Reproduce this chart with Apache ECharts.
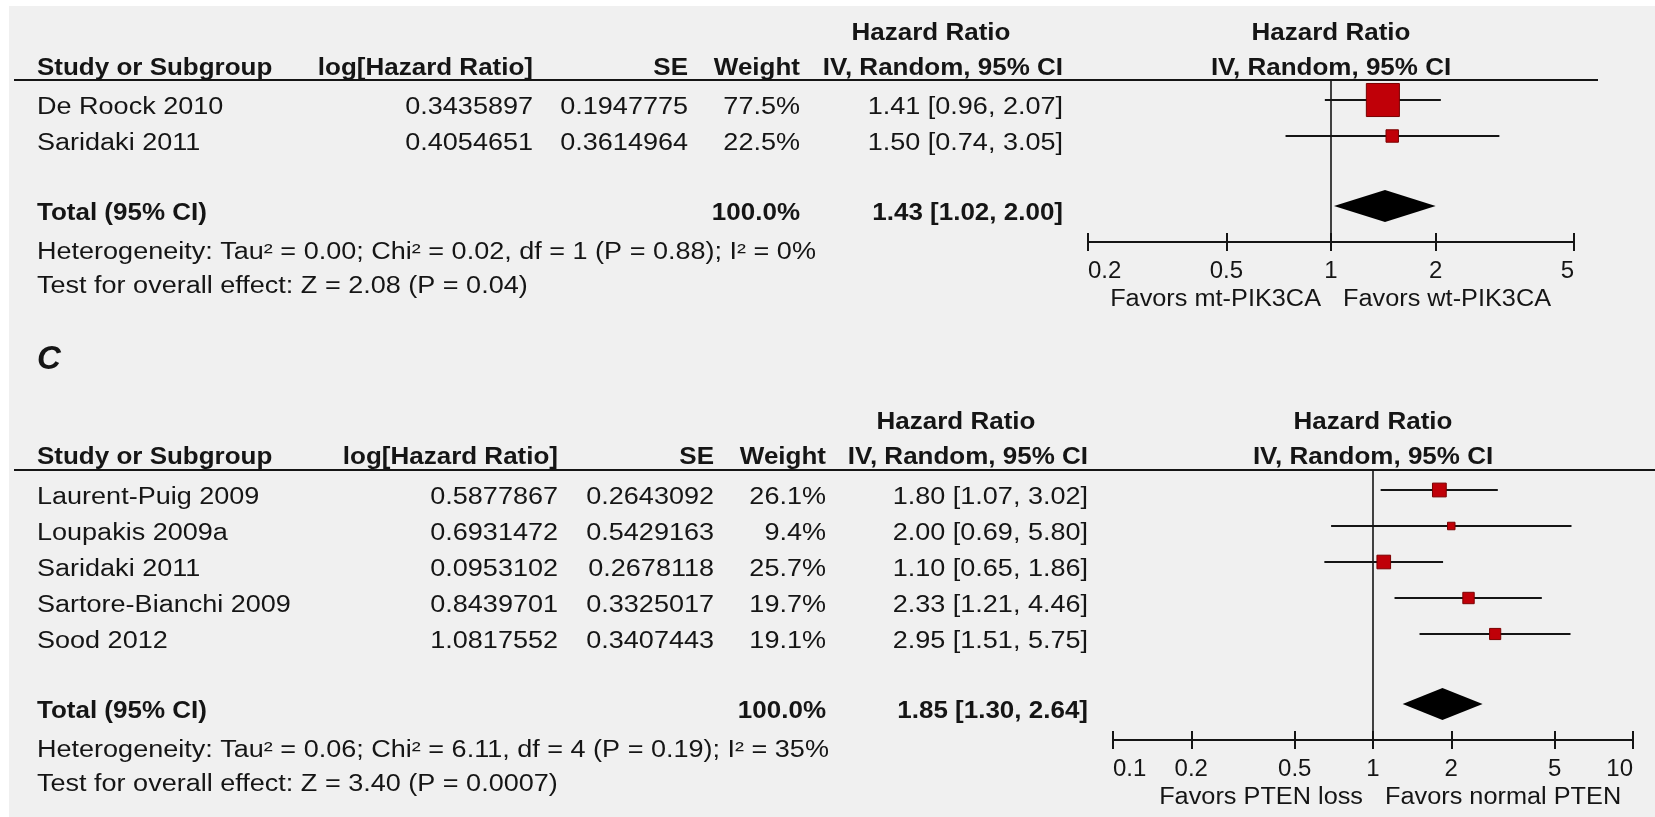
<!DOCTYPE html>
<html>
<head>
<meta charset="utf-8">
<script src="https://cdn.jsdelivr.net/npm/echarts@6/dist/echarts.min.js"></script>
<style>
html,body{margin:0;padding:0;background:#fff;}
#chart{width:1655px;height:817px;}
</style>
</head>
<body>
<div id="chart"></div>
<script>
// ---------- Panel 1 : PIK3CA ----------
const studiesA = ['De Roock 2010', 'Saridaki 2011'];
const logHrA = [0.3435897, 0.4054651];
const seA = [0.1947775, 0.3614964];
const weightA = [77.5, 22.5];
const hrA = [1.41, 1.50];
const loA = [0.96, 0.74];
const hiA = [2.07, 3.05];
const totalA = [1.43, 1.02, 2.00];           // HR, lower, upper
const totalWeightA = 100.0;
const hetA = 'Heterogeneity: Tau² = 0.00; Chi² = 0.02, df = 1 (P = 0.88); I² = 0%';
const testA = 'Test for overall effect: Z = 2.08 (P = 0.04)';
const ticksA = [0.2, 0.5, 1, 2, 5];
const favorsA = ['Favors mt-PIK3CA', 'Favors wt-PIK3CA'];

// ---------- Panel C : PTEN ----------
const panelLabelC = 'C';
const studiesC = ['Laurent-Puig 2009', 'Loupakis 2009a', 'Saridaki 2011', 'Sartore-Bianchi 2009', 'Sood 2012'];
const logHrC = [0.5877867, 0.6931472, 0.0953102, 0.8439701, 1.0817552];
const seC = [0.2643092, 0.5429163, 0.2678118, 0.3325017, 0.3407443];
const weightC = [26.1, 9.4, 25.7, 19.7, 19.1];
const hrC = [1.80, 2.00, 1.10, 2.33, 2.95];
const loC = [1.07, 0.69, 0.65, 1.21, 1.51];
const hiC = [3.02, 5.80, 1.86, 4.46, 5.75];
const totalC = [1.85, 1.30, 2.64];
const totalWeightC = 100.0;
const hetC = 'Heterogeneity: Tau² = 0.06; Chi² = 6.11, df = 4 (P = 0.19); I² = 35%';
const testC = 'Test for overall effect: Z = 3.40 (P = 0.0007)';
const ticksC = [0.1, 0.2, 0.5, 1, 2, 5, 10];
const favorsC = ['Favors PTEN loss', 'Favors normal PTEN'];

// ---------- shared header texts ----------
const headers = ['Study or Subgroup', 'log[Hazard Ratio]', 'SE', 'Weight', 'IV, Random, 95% CI'];
const headerTop = 'Hazard Ratio';

// ---------- layout (pixels) ----------
const FONT = '"Liberation Sans", Arial, Helvetica, sans-serif';
const INK = '#151515';
const ROW_GAP = 36, FIRST_ROW = 20, TOTAL_GAP = 70, TEXT_DY = 8;
const panels = [
  {studies: studiesA, logHr: logHrA, se: seA, weight: weightA, hr: hrA, lo: loA, hi: hiA,
   total: totalA, totalW: totalWeightA, het: hetA, test: testA, ticks: ticksA, favors: favorsA,
   lineY: 80, lineEnd: 1598, hrHeadY: 34, headY: 69, gridLeft: 1088, gridRight: 1574,
   cols: {study: 37, log: 533, se: 688, w: 800, ci: 1063}},
  {studies: studiesC, logHr: logHrC, se: seC, weight: weightC, hr: hrC, lo: loC, hi: hiC,
   total: totalC, totalW: totalWeightC, het: hetC, test: testC, ticks: ticksC, favors: favorsC,
   lineY: 470, lineEnd: 1655, hrHeadY: 423, headY: 458, gridLeft: 1113, gridRight: 1633,
   cols: {study: 37, log: 558, se: 714, w: 826, ci: 1088}}
];
panels.forEach(p => {
  p.rowY = p.studies.map((_, i) => FIRST_ROW + i * ROW_GAP);          // offsets inside grid
  p.totalY = p.rowY[p.rowY.length - 1] + TOTAL_GAP;
  p.gridH = p.totalY + ROW_GAP;
});

const chart = echarts.init(document.getElementById('chart'), null, {renderer: 'canvas'});

const grids = [], xAxes = [], yAxes = [], series = [];
panels.forEach((p, k) => {
  grids.push({left: p.gridLeft, top: p.lineY, width: p.gridRight - p.gridLeft, height: p.gridH, containLabel: false});
  const fmt = v => { const t = p.ticks.find(t => Math.abs(t - v) < 1e-6 * t); return String(t !== undefined ? t : v); };
  // main axis: line, outer ticks, labels
  xAxes.push({type: 'log', logBase: 10, gridIndex: k, position: 'bottom', min: p.ticks[0], max: p.ticks[p.ticks.length - 1],
    axisLine: {show: true, onZero: false, lineStyle: {color: INK, width: 2.2}},
    axisTick: {show: true, inside: false, length: 9, lineStyle: {color: INK, width: 2}, customValues: p.ticks},
    axisLabel: {show: true, customValues: p.ticks, formatter: fmt, margin: 17, color: INK, fontSize: 24, fontFamily: FONT,
      alignMinLabel: 'left', alignMaxLabel: 'right', showMinLabel: true, showMaxLabel: true},
    splitLine: {show: false}, minorTick: {show: false}});
  // twin axis: inner ticks
  xAxes.push({type: 'log', logBase: 10, gridIndex: k, position: 'bottom', offset: 0, min: p.ticks[0], max: p.ticks[p.ticks.length - 1],
    axisLine: {show: false, onZero: false},
    axisTick: {show: true, inside: true, length: 9, lineStyle: {color: INK, width: 2}, customValues: p.ticks},
    axisLabel: {show: false}, splitLine: {show: false}});
  yAxes.push({type: 'value', gridIndex: k, min: 0, max: p.gridH, inverse: true, show: false});

  const xi = k * 2;
  // reference line at HR = 1
  series.push({type: 'custom', xAxisIndex: xi, yAxisIndex: k, silent: true, z: 1,
    data: [[1, 0, p.gridH]], encode: {x: 0, y: [1, 2]},
    renderItem: (params, api) => {
      const a = api.coord([api.value(0), api.value(1)]);
      const b = api.coord([api.value(0), api.value(2)]);
      return {type: 'line', shape: {x1: a[0], y1: a[1], x2: b[0], y2: b[1]}, style: {stroke: INK, lineWidth: 1.6}};
    }});
  // studies: CI whiskers + weighted squares
  series.push({type: 'custom', xAxisIndex: xi, yAxisIndex: k, silent: true, z: 3,
    data: p.studies.map((s, i) => [p.hr[i], p.lo[i], p.hi[i], p.rowY[i], p.weight[i]]),
    encode: {x: [0, 1, 2], y: 3},
    renderItem: (params, api) => {
      const y = api.value(3);
      const lo = api.coord([api.value(1), y]);
      const hi = api.coord([api.value(2), y]);
      const c = api.coord([api.value(0), y]);
      const s = 4 + 0.375 * api.value(4);
      return {type: 'group', children: [
        {type: 'line', shape: {x1: lo[0], y1: lo[1], x2: hi[0], y2: hi[1]}, style: {stroke: INK, lineWidth: 2.2}},
        {type: 'rect', shape: {x: c[0] - s / 2, y: c[1] - s / 2, width: s, height: s}, style: {fill: '#c00008', stroke: '#7a0000', lineWidth: 1}}
      ]};
    }});
  // pooled diamond
  series.push({type: 'custom', xAxisIndex: xi, yAxisIndex: k, silent: true, z: 3,
    data: [[p.total[0], p.total[1], p.total[2], p.totalY]], encode: {x: [0, 1, 2], y: 3},
    renderItem: (params, api) => {
      const y = api.value(3);
      const lo = api.coord([api.value(1), y]);
      const hi = api.coord([api.value(2), y]);
      const top = api.coord([api.value(0), y - 16]);
      const bot = api.coord([api.value(0), y + 16]);
      return {type: 'polygon', shape: {points: [lo, top, hi, bot]}, style: {fill: '#000'}};
    }});
});

chart.setOption({
  backgroundColor: '#ffffff',
  animation: false,
  grid: grids, xAxis: xAxes, yAxis: yAxes, series: series
});

// ---------- table text (graphic) ----------
function txt(x, y, text, o) {
  o = o || {};
  const size = o.size || 23;
  const font = (o.italic ? 'italic ' : '') + (o.bold ? 'bold ' : '') + size + 'px ' + FONT;
  const align = o.align || 'left';
  return {type: 'text', x: x, y: y, scaleX: o.sx || (o.bold ? 1.13 : 1.175), silent: true, z: 10,
    style: {text: text, font: font, fill: INK, textAlign: align, textVerticalAlign: 'middle', align: align, verticalAlign: 'middle'}};
}
const g = [];
g.push({type: 'rect', shape: {x: 9, y: 6, width: 1646, height: 811}, style: {fill: '#f0f0f0'}, z: -10, silent: true});
panels.forEach((p, k) => {
  const c = p.cols;
  const x1 = chart.convertToPixel({xAxisIndex: k * 2}, 1);
  const axisY = p.lineY + p.gridH;
  // headers
  g.push(txt(c.ci - 132, p.hrHeadY, headerTop, {bold: true, align: 'center'}));
  g.push(txt(x1, p.hrHeadY, headerTop, {bold: true, align: 'center'}));
  g.push(txt(c.study, p.headY, headers[0], {bold: true}));
  g.push(txt(c.log, p.headY, headers[1], {bold: true, align: 'right'}));
  g.push(txt(c.se, p.headY, headers[2], {bold: true, align: 'right'}));
  g.push(txt(c.w, p.headY, headers[3], {bold: true, align: 'right'}));
  g.push(txt(c.ci, p.headY, headers[4], {bold: true, align: 'right'}));
  g.push(txt(x1, p.headY, headers[4], {bold: true, align: 'center'}));
  g.push({type: 'line', shape: {x1: 14, y1: p.lineY, x2: p.lineEnd, y2: p.lineY}, style: {stroke: INK, lineWidth: 2.2}, z: 9, silent: true});
  // rows
  p.studies.forEach((s, i) => {
    const y = p.lineY + p.rowY[i] + TEXT_DY;
    g.push(txt(c.study, y, s));
    g.push(txt(c.log, y, p.logHr[i].toFixed(7), {align: 'right'}));
    g.push(txt(c.se, y, p.se[i].toFixed(7), {align: 'right'}));
    g.push(txt(c.w, y, p.weight[i].toFixed(1) + '%', {align: 'right'}));
    g.push(txt(c.ci, y, p.hr[i].toFixed(2) + ' [' + p.lo[i].toFixed(2) + ', ' + p.hi[i].toFixed(2) + ']', {align: 'right'}));
  });
  const ty = p.lineY + p.totalY + TEXT_DY;
  g.push(txt(c.study, ty, 'Total (95% CI)', {bold: true}));
  g.push(txt(c.w, ty, p.totalW.toFixed(1) + '%', {bold: true, align: 'right'}));
  g.push(txt(c.ci, ty, p.total[0].toFixed(2) + ' [' + p.total[1].toFixed(2) + ', ' + p.total[2].toFixed(2) + ']', {bold: true, align: 'right'}));
  g.push(txt(c.study, ty + 39, p.het));
  g.push(txt(c.study, ty + 73, p.test));
  // favours labels
  g.push(txt(x1 - 10, axisY + 58, p.favors[0], {align: 'right', sx: 1.1}));
  g.push(txt(x1 + 12, axisY + 58, p.favors[1], {align: 'left', sx: 1.1}));
});
g.push(txt(37, 360, panelLabelC, {italic: true, bold: true, size: 33, sx: 1}));

chart.setOption({graphic: {elements: g}});
</script>
</body>
</html>
